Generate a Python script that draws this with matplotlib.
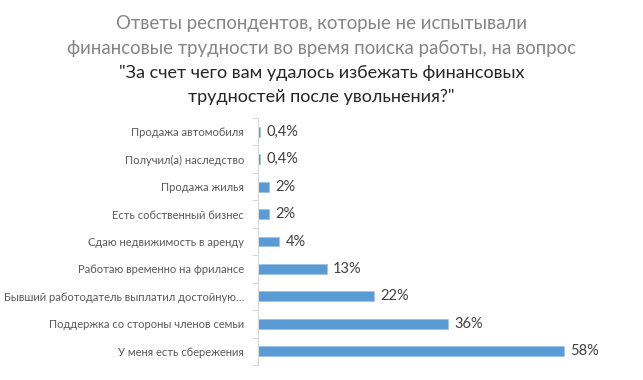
import matplotlib
matplotlib.use("Agg")
import matplotlib.pyplot as plt
from matplotlib.ticker import FixedLocator

plt.rcParams['font.family'] = ['Lato', 'DejaVu Sans']

# Data (top to bottom as in the reference)
categories = [
    "Продажа автомобиля",
    "Получил(а) наследство",
    "Продажа жилья",
    "Есть собственный бизнес",
    "Сдаю недвижимость в аренду",
    "Работаю временно на фрилансе",
    "Бывший работодатель выплатил достойную…",
    "Поддержка со стороны членов семьи",
    "У меня есть сбережения",
]
values = [0.4, 0.4, 2, 2, 4, 13, 22, 36, 58]
value_labels = ["0,4%", "0,4%", "2%", "2%", "4%", "13%", "22%", "36%", "58%"]

title_gray = ["Ответы респондентов, которые не испытывали",
              "финансовые трудности во время поиска работы, на вопрос"]
title_dark = ["\"За счет чего вам удалось избежать финансовых",
              "трудностей после увольнения?\""]

bar_color = "#5B9BD5"

fig = plt.figure(figsize=(6.43, 3.80), dpi=100)
ax = fig.add_axes([258 / 643, 1 - 365 / 380, (627 - 258) / 643, (365 - 118) / 380])

n = len(categories)
ypos = list(range(n))[::-1]
ax.barh(ypos, values, height=0.36, color=bar_color, edgecolor="#9DC3E6", linewidth=0.6)

for y, v, lab in zip(ypos, values, value_labels):
    ax.text(v + 1.2, y, lab, va="center", ha="left", fontsize=10.5, color="#404040")

ax.set_xlim(0, 70)
ax.set_ylim(-0.5, n - 0.5)
ax.set_yticks(ypos)
ax.set_yticklabels(categories, fontsize=8, color="#595959")
ax.tick_params(axis="y", which="major", length=0, pad=10)
ax.yaxis.set_minor_locator(FixedLocator([i - 0.5 for i in range(n + 1)]))
ax.tick_params(axis="y", which="minor", length=4, color="#D9D9D9", width=0.8)
ax.set_xticks([])

for s in ["top", "right", "bottom"]:
    ax.spines[s].set_visible(False)
ax.spines["left"].set_color("#D9D9D9")
ax.spines["left"].set_linewidth(0.8)

# Title
fig.text(0.5, 1 - 23 / 380, title_gray[0], ha="center", va="center", fontsize=13.4,
         color="#858585")
fig.text(0.5, 1 - 48 / 380, title_gray[1], ha="center", va="center", fontsize=13.4,
         color="#858585")
fig.text(0.5, 1 - 73 / 380, title_dark[0], ha="center", va="center", fontsize=13,
         color="#262626")
fig.text(0.5, 1 - 97 / 380, title_dark[1], ha="center", va="center", fontsize=13,
         color="#262626")

fig.savefig("out.png", dpi=100)
